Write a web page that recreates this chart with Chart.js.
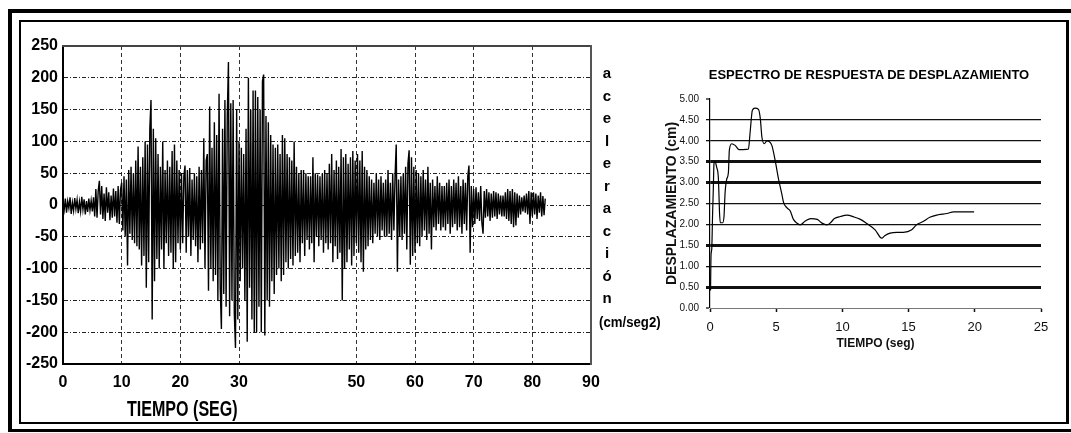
<!DOCTYPE html>
<html lang="es">
<head>
<meta charset="utf-8">
<title>Acelerograma y espectro de respuesta</title>
<script src="https://cdn.jsdelivr.net/npm/chart.js@4.4.1/dist/chart.umd.min.js"></script>
<style>
    html, body {
        margin: 0;
        padding: 0;
        background: #fff;
    }
    body {
        position: relative;
        width: 1071px;
        height: 433px;
        overflow: hidden;
        font-family: 'Liberation Sans', Arial, sans-serif;
    }
    #marcoExterior {
        position: absolute;
        left: 8px;
        top: 9px;
        width: 1100px;
        height: 423px;
        box-sizing: border-box;
        border-top: 4px solid #000;
        border-left: 4px solid #000;
        border-bottom: 3px solid #000;
    }
    #marcoInterior {
        position: absolute;
        left: 19px;
        top: 20px;
        width: 1050px;
        height: 404px;
        box-sizing: border-box;
        border: 2px solid #000;
        border-right-width: 3px;
    }
    canvas {
        position: absolute;
    }
    #graficoAceleracion {
        left: 0;
        top: 0;
    }
    #graficoEspectro {
        left: 640px;
        top: 84px;
    }
    .rotulo {
        position: absolute;
        color: #000;
        white-space: nowrap;
        transform-origin: 0 0;
    }
    #tituloTiempo {
        left: 127px;
        top: 397px;
        font-size: 22px;
        font-weight: bold;
        line-height: 24px;
        transform: scaleX(0.73);
    }
    #letrasAceleracion {
        left: 600px;
        top: 62px;
        width: 14px;
        text-align: center;
        font-size: 15px;
        font-weight: bold;
        line-height: 22.5px;
    }
    #unidadAceleracion {
        left: 599px;
        top: 312px;
        font-size: 15px;
        font-weight: bold;
        line-height: 20px;
        transform: scaleX(0.88);
    }
    #tituloEspectro {
        left: 669px;
        top: 67px;
        width: 400px;
        text-align: center;
        font-size: 13px;
        font-weight: bold;
        line-height: 16px;
    }
</style>
</head>
<body>
<div id="marcoExterior"></div>
<div id="marcoInterior"></div>

<canvas id="graficoAceleracion" width="680" height="433"></canvas>
<canvas id="graficoEspectro" width="431" height="276"></canvas>

<div class="rotulo" id="tituloTiempo">TIEMPO (SEG)</div>
<div class="rotulo" id="letrasAceleracion"></div>
<div class="rotulo" id="unidadAceleracion">(cm/seg2)</div>
<div class="rotulo" id="tituloEspectro">ESPECTRO DE RESPUESTA DE DESPLAZAMIENTO</div>

<script>
// Registro de aceleraciones (cm/seg2), una muestra cada PASO segundos
const PASO = 0.2;
const aceleracion = [
    // 0 - 5 s
    3, -8, 10, -12, 6, -5, 12, -14, 4, -9, 11, -6, 8, -13, 5, -10, 13, -7, 9, -15, 6, -11, 10, -8, 7,
    // 5 - 10 s
    -10, 12, -18, 25, -20, 22, 38, -15, 30, -22, 18, -25, 28, -12, 20, -24, 15, -20, 26, -18, 22, -28, 30, -30, 24,
    // 10 - 15 s
    35, -40, 45, -50, 40, -95, 55, -45, 60, -55, 50, -60, 70, -65, 92, -70, 60, -95, 75, -80, 100, -130, 95, -90, 120,
    // 15 - 20 s
    165, -180, 120, -120, 105, -85, 80, -100, 60, -70, 100, -100, 55, -60, 70, -80, 60, -75, 85, -100, 95, -90, 70, -60, 55,
    // 20 - 25 s
    -70, 50, -60, 45, 62, -75, 55, -50, 58, -80, 40, -55, 50, -65, 45, -90, 60, -70, 55, -60, 105, -100, 70, 80, -135,
    // 25 - 30 s
    155, -100, 90, -120, 130, -110, 110, -150, 175, -130, -195, 120, -140, 165, -160, 140, 225, -175, 160, -150, 165, -170, -225, 150, -180,
    // 30 - 35 s
    100, -120, 90, -100, 80, -150, 120, -215, 200, -130, 150, -180, 180, -200, 180, -200, 170, -160, 150, -200, 195, 205, -205, 140, -150,
    // 35 - 40 s
    130, -160, 110, -120, 95, -140, 90, -110, 95, -100, 80, -120, 110, -110, 105, -90, 80, -100, 75, -85, 70, -95, 100, -80, 60,
    // 40 - 45 s
    -75, 50, -90, 55, -60, 55, -80, 50, -55, 45, -70, 45, -60, 75, -90, 50, -50, 48, -65, 45, -55, 50, -75, 55, -60,
    // 45 - 50 s
    50, -70, 65, -60, 80, -90, 55, -65, 70, -85, 60, -75, 88, -150, 75, -100, 80, -90, 65, -70, 75, -95, 85, -80, 70,
    // 50 - 55 s
    -60, 80, -75, 70, -90, 85, -105, 60, -70, 55, -65, 45, -55, 40, -60, 35, -45, 50, -50, 40, -55, 45, -40, 35, -50,
    // 55 - 60 s
    40, -50, 55, -45, 35, -55, 50, -40, 45, 95, -105, 40, -50, 45, -55, 50, -45, 60, -70, 65, 86, -94, 75, -80, 60,
    // 60 - 65 s
    -75, 55, -60, 50, -65, 45, -50, 55, -40, 40, -55, 60, -45, 35, -70, 40, -35, 30, -40, 45, -30, 35, -40, 30, -35,
    // 65 - 70 s
    30, -40, 35, -30, 40, -45, 30, -35, 40, -30, 35, -40, 45, -35, 30, -45, 40, -30, 35, -40, 45, 62, -75, 30, -35,
    // 70 - 75 s
    25, -30, 28, -22, 20, -25, 30, -28, -45, 22, -20, 25, -18, 20, -25, 18, -20, 22, -18, 20, -22, 18, -15, 15, -18,
    // 75 - 80 s
    15, -18, 20, -22, 25, -25, 22, -30, 25, -35, 20, -32, 18, -20, 15, -15, 12, -10, 15, -12, 18, -15, 22, -30, 20,
    // 80 - 82.2 s
    -18, 20, -15, 18, -22, 15, -12, 20, -18, 14, -16, 10
];

// Etiquetas del eje de tiempo del acelerograma (la de 40 s va en blanco)
const etiquetasTiempo = ['0', '10', '20', '30', '', '50', '60', '70', '80', '90'];

// Espectro de respuesta de desplazamiento
const periodo = [
    0.04, 0.08, 0.13, 0.2, 0.25, 0.3, 0.38, 0.5, 0.63, 0.68, 0.72, 0.78, 0.96, 1.06, 1.14, 1.26, 1.39, 1.46, 1.64, 1.9,
    2.2, 2.5, 2.9, 3.03, 3.2, 3.4, 3.66, 3.8, 3.92, 4.1, 4.3, 4.67, 4.92, 5.18, 5.43, 5.56, 5.8, 6.06, 6.3, 6.57,
    6.8, 7.2, 7.6, 8.1, 8.46, 8.84, 9.1, 9.4, 9.85, 10.35, 10.86, 11.36, 11.84, 12.47, 12.97, 13.2, 13.6, 14.1, 14.6, 15.24,
    15.6, 16.1, 16.6, 17.25, 17.9, 18.4, 19.1, 19.95
];
const desplazamiento = [
    0.42, 1.28, 1.4, 2.3, 2.84, 3.45, 3.5, 3.37, 3.12, 2.68, 2.28, 2.04, 2.04, 2.2, 2.76, 3.08, 3.24, 3.77, 3.93, 3.89,
    3.79, 3.79, 3.8, 4.2, 4.73, 4.78, 4.75, 4.53, 4.09, 3.93, 4.0, 3.89, 3.53, 3.08, 2.72, 2.52, 2.4, 2.32, 2.12, 2.03,
    1.99, 2.08, 2.14, 2.12, 2.03, 1.99, 2.04, 2.14, 2.19, 2.22, 2.18, 2.12, 2.02, 1.87, 1.67, 1.73, 1.79, 1.81, 1.81, 1.87,
    1.99, 2.07, 2.17, 2.23, 2.26, 2.30, 2.30, 2.30
];

// Líneas gruesas de la grilla del espectro
const lineasGruesas = [3.5, 3.0, 1.5, 0.5];

const letrasEjeY = ['a', 'c', 'e', 'l', 'e', 'r', 'a', 'c', 'i', 'ó', 'n'];

const FUENTE = "'Liberation Sans', Arial, sans-serif";

document.getElementById('letrasAceleracion').innerHTML = letrasEjeY.join('<br>');

// Eje auxiliar solo para cerrar el recuadro (arriba / derecha)
function ejeBorde(posicion, min, max, color) {
    return {
        type: 'linear',
        position: posicion,
        min: min,
        max: max,
        ticks: { display: false },
        grid: { drawOnChartArea: false, drawTicks: false },
        border: { display: true, color: color, width: 2 },
        afterFit: function (escala) {
            if (escala.isHorizontal()) {
                escala.height = 0;
            } else {
                escala.width = 0;
            }
        }
    };
}

function cargarGraficoAceleracion() {
    const ctx = document.getElementById('graficoAceleracion').getContext('2d');
    const puntos = aceleracion.map((a, i) => ({ x: i * PASO, y: a }));

    new Chart(ctx, {
        type: 'line',
        data: {
            datasets: [{
                data: puntos,
                borderColor: '#000',
                borderWidth: 1.4,
                pointRadius: 0,
                tension: 0
            }]
        },
        options: {
            responsive: false,
            animation: false,
            events: [],
            layout: { padding: { top: 46, right: 89, bottom: 0, left: 0 } },
            plugins: {
                legend: { display: false },
                tooltip: { enabled: false }
            },
            scales: {
                x: {
                    type: 'linear',
                    min: 0,
                    max: 90,
                    ticks: {
                        stepSize: 10,
                        padding: 9,
                        color: '#000',
                        font: { family: FUENTE, size: 16, weight: 'bold' },
                        callback: function (valor) {
                            return etiquetasTiempo[Math.round(valor / 10)];
                        }
                    },
                    grid: {
                        drawTicks: false,
                        lineWidth: 1,
                        color: function (c) {
                            const v = c.tick ? c.tick.value : null;
                            if (v === 0 || v === 90 || v === 40) return 'rgba(0,0,0,0)';
                            return '#333';
                        }
                    },
                    border: { display: true, color: '#000', width: 2, dash: [4, 3] },
                    afterFit: function (escala) { escala.height = 69; }
                },
                y: {
                    min: -250,
                    max: 250,
                    ticks: {
                        stepSize: 50,
                        padding: 5,
                        color: '#000',
                        font: { family: FUENTE, size: 16, weight: 'bold' }
                    },
                    grid: {
                        drawTicks: false,
                        lineWidth: 1,
                        color: function (c) {
                            const v = c.tick ? c.tick.value : null;
                            if (v === 250 || v === -250) return 'rgba(0,0,0,0)';
                            return '#222';
                        }
                    },
                    border: { display: true, color: '#000', width: 2, dash: [4, 2, 1, 2] },
                    afterFit: function (escala) { escala.width = 63; }
                },
                xArriba: ejeBorde('top', 0, 90, '#444'),
                yDerecha: ejeBorde('right', -250, 250, '#555')
            }
        }
    });
}

function cargarGraficoEspectro() {
    const ctx = document.getElementById('graficoEspectro').getContext('2d');
    const puntos = periodo.map((t, i) => ({ x: t, y: desplazamiento[i] }));

    new Chart(ctx, {
        type: 'line',
        data: {
            datasets: [{
                data: puntos,
                borderColor: '#000',
                borderWidth: 1.2,
                pointRadius: 0,
                cubicInterpolationMode: 'monotone'
            }]
        },
        options: {
            responsive: false,
            animation: false,
            events: [],
            layout: { padding: { top: 15, right: 30, bottom: 0, left: 0 } },
            plugins: {
                legend: { display: false },
                tooltip: { enabled: false }
            },
            scales: {
                x: {
                    type: 'linear',
                    min: 0,
                    max: 25,
                    ticks: {
                        stepSize: 5,
                        padding: 8,
                        color: '#111',
                        font: { family: FUENTE, size: 13 }
                    },
                    grid: {
                        drawOnChartArea: false,
                        drawTicks: true,
                        tickLength: 4,
                        tickWidth: 1.5,
                        tickColor: '#111'
                    },
                    border: { display: true, color: '#777', width: 1 },
                    title: {
                        display: true,
                        text: 'TIEMPO (seg)',
                        color: '#111',
                        font: { family: FUENTE, size: 12, weight: 'bold' },
                        padding: { top: 0, bottom: 9 }
                    },
                    afterFit: function (escala) { escala.height = 52; }
                },
                y: {
                    min: 0,
                    max: 5,
                    ticks: {
                        stepSize: 0.5,
                        padding: 7,
                        color: '#111',
                        font: { family: FUENTE, size: 10 },
                        callback: function (valor) { return valor.toFixed(2); }
                    },
                    grid: {
                        drawTicks: true,
                        tickLength: 4,
                        color: '#111',
                        tickColor: '#111',
                        lineWidth: function (c) {
                            const v = c.tick ? c.tick.value : null;
                            if (v === 0 || v === 5) return 0;
                            return lineasGruesas.includes(v) ? 3 : 1.3;
                        },
                        tickWidth: function (c) {
                            const v = c.tick ? c.tick.value : null;
                            return lineasGruesas.includes(v) ? 3 : 1.3;
                        }
                    },
                    border: { display: true, color: '#000', width: 1.2 },
                    title: {
                        display: true,
                        text: 'DESPLAZAMIENTO (cm)',
                        color: '#111',
                        font: { family: FUENTE, size: 14, weight: 'bold' },
                        padding: { top: 24, bottom: 0 }
                    },
                    afterFit: function (escala) { escala.width = 70; }
                }
            }
        }
    });
}

cargarGraficoAceleracion();
cargarGraficoEspectro();
</script>
</body>
</html>
